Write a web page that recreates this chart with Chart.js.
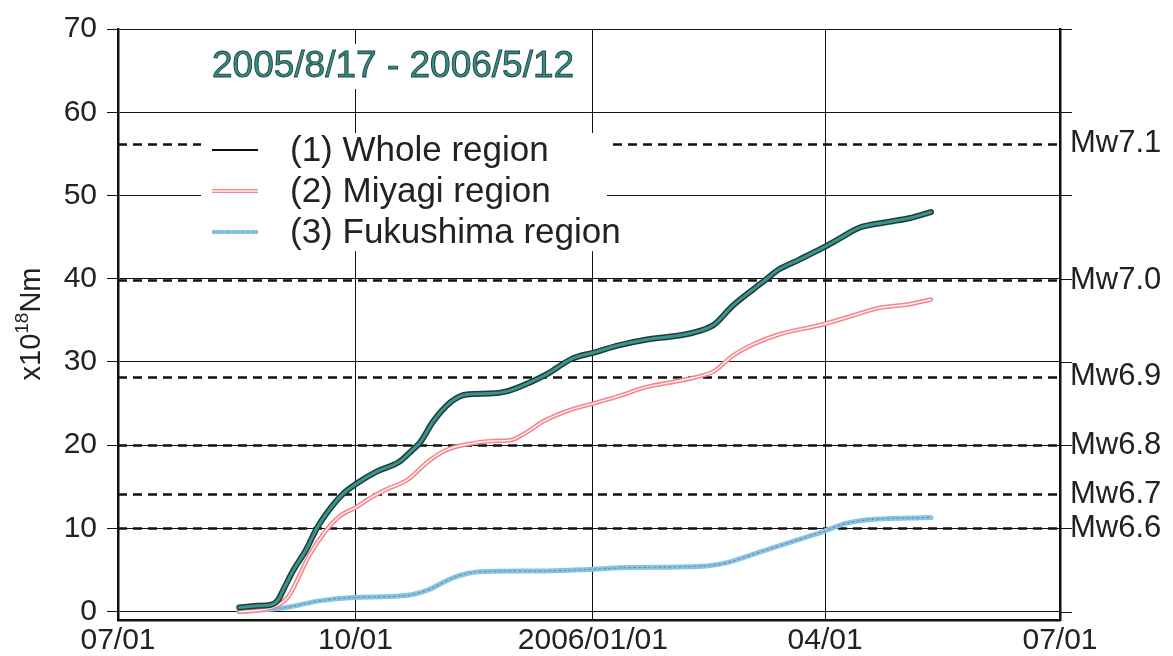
<!DOCTYPE html>
<html>
<head>
<meta charset="utf-8">
<script src="https://cdn.jsdelivr.net/npm/chart.js@4.4.1/dist/chart.umd.min.js"></script>
<style>
  html, body { margin: 0; padding: 0; background: #ffffff; }
  canvas { display: block; }
</style>
</head>
<body>
<canvas id="c" width="1173" height="656"></canvas>
<script>
// ---- data (days counted from 2005/07/01) ----
const xTickDays = [0, 92, 184, 274, 365];
const xTickLabels = ['07/01', '10/01', '2006/01/01', '04/01', '07/01'];
const yTickValues = [0, 10, 20, 30, 40, 50, 60, 70];
const mwValues = [56.2, 39.8, 28.2, 20.0, 14.1, 10.0];
const mwLabels = ['Mw7.1', 'Mw7.0', 'Mw6.9', 'Mw6.8', 'Mw6.7', 'Mw6.6'];
const periodLabel = '2005/8/17 - 2006/5/12';
const seriesNames = ['(1) Whole region', '(2) Miyagi region', '(3) Fukushima region'];

const wholeDays = [47,54,59,62,64,68,73,77,82,87,92,100,109,114,117,122,129,135,144,151,160,166,176,184,194,205,218,225,231,238,246,251,256,264,273,280,287,298,307,315];
const wholeValues = [0.5,0.7,0.8,1.4,2.6,5,7.5,10,12.3,14.1,15.3,16.8,18,19.4,20.3,22.8,25.2,26.1,26.2,26.5,27.6,28.5,30.4,31.1,32,32.7,33.2,33.7,34.5,36.7,38.7,39.9,41.1,42.3,43.7,44.9,46.1,46.8,47.3,48];

const miyagiDays = [47,55,62,66,69,74,81,86,92,98,104,112,120,127,135,145,152,157,165,174,184,194,205,215,223,231,238,246,256,273,284,295,306,315];
const miyagiValues = [0,0.2,0.8,1.8,3.5,6.7,9.9,11.5,12.5,13.7,14.7,15.8,18,19.4,20.1,20.5,20.6,21.3,22.9,24.1,25,25.9,27,27.6,28.1,28.9,30.7,32.1,33.3,34.5,35.5,36.5,36.9,37.5];

const fukushimaDays = [47,65,78,91,110,120,130,140,156,166,184,198,228,236,248,260,273,282,293,315];
const fukushimaValues = [0,0.5,1.3,1.7,1.9,2.6,4.1,4.8,4.9,4.9,5.1,5.3,5.5,5.9,7.1,8.3,9.6,10.6,11.1,11.3];

const toPoints = (days, vals) => days.map((d, i) => ({ x: d, y: vals[i] }));
const FONT = "'Liberation Sans', Arial, Helvetica, sans-serif";
const TXT = '#222222';

function line(data, color, width, order, dash) {
  return {
    data: data, borderColor: color, borderWidth: width, order: order,
    borderDash: dash || [], pointRadius: 0, fill: false,
    cubicInterpolationMode: 'monotone', borderCapStyle: 'round', borderJoinStyle: 'round'
  };
}

const decor = {
  id: 'decor',
  beforeDatasetsDraw(chart) {
    const ctx = chart.ctx, ca = chart.chartArea, y = chart.scales.y;
    ctx.save();
    // Mw reference dashed lines
    ctx.strokeStyle = '#111';
    ctx.lineWidth = 2.5;
    ctx.setLineDash([9, 6]);
    mwValues.forEach(v => {
      const py = Math.round(y.getPixelForValue(v)) + 0.5;
      ctx.beginPath(); ctx.moveTo(ca.left, py); ctx.lineTo(ca.right, py); ctx.stroke();
    });
    ctx.setLineDash([]);
    // grid extension right of the frame
    ctx.lineWidth = 1;
    yTickValues.forEach(v => {
      const py = Math.round(y.getPixelForValue(v)) + 0.5;
      ctx.beginPath(); ctx.moveTo(ca.right, py); ctx.lineTo(ca.right + 12, py); ctx.stroke();
    });
    // white boxes behind title and legend
    ctx.fillStyle = '#ffffff';
    ctx.fillRect(205, y.getPixelForValue(68.2), 378, y.getPixelForValue(62.8) - y.getPixelForValue(68.2));
    ctx.fillRect(201, y.getPixelForValue(57.5), 406, y.getPixelForValue(43.3) - y.getPixelForValue(57.5));

    // period label
    ctx.font = '37px ' + FONT;
    ctx.textAlign = 'left';
    ctx.textBaseline = 'middle';
    ctx.lineWidth = 0.9;
    ctx.strokeStyle = '#1d4542';
    ctx.fillStyle = '#3a8a84';
    ctx.fillText(periodLabel, 212, 67);
    ctx.strokeText(periodLabel, 212, 67);

    // legend
    const rows = [150, 191, 232];
    // (1) black
    ctx.strokeStyle = '#111'; ctx.lineWidth = 2;
    ctx.beginPath(); ctx.moveTo(212, rows[0]); ctx.lineTo(258, rows[0]); ctx.stroke();
    // (2) pink hollow
    ctx.strokeStyle = '#f4868c'; ctx.lineWidth = 4;
    ctx.beginPath(); ctx.moveTo(212, rows[1]); ctx.lineTo(258, rows[1]); ctx.stroke();
    ctx.strokeStyle = '#fff0f0'; ctx.lineWidth = 1.3;
    ctx.beginPath(); ctx.moveTo(212, rows[1]); ctx.lineTo(258, rows[1]); ctx.stroke();
    // (3) blue dotted
    ctx.strokeStyle = '#86c6e4'; ctx.lineWidth = 4;
    ctx.beginPath(); ctx.moveTo(212, rows[2]); ctx.lineTo(258, rows[2]); ctx.stroke();
    ctx.strokeStyle = '#7f8aa6'; ctx.lineWidth = 1.2; ctx.setLineDash([2, 3]);
    ctx.beginPath(); ctx.moveTo(212, rows[2]); ctx.lineTo(258, rows[2]); ctx.stroke();
    ctx.setLineDash([]);
    ctx.fillStyle = TXT;
    ctx.font = '35px ' + FONT;
    seriesNames.forEach((s, i) => ctx.fillText(s, 290, rows[i] + 1));

    // y axis title  x10^18 Nm
    ctx.translate(30, 324);
    ctx.rotate(-Math.PI / 2);
    const big = '29px ' + FONT, small = '19px ' + FONT;
    ctx.font = big; const w1 = ctx.measureText('x10').width; const w3 = ctx.measureText('Nm').width;
    ctx.font = small; const w2 = ctx.measureText('18').width;
    let px = -(w1 + w2 + w3) / 2;
    ctx.textBaseline = 'alphabetic';
    ctx.font = big; ctx.fillText('x10', px, 10); px += w1;
    ctx.font = small; ctx.fillText('18', px, -2); px += w2;
    ctx.font = big; ctx.fillText('Nm', px, 10);
    ctx.restore();
  }
};

new Chart(document.getElementById('c'), {
  type: 'line',
  data: {
    datasets: [
      line(toPoints(wholeDays, wholeValues), '#3f918b', 3, 1),
      line(toPoints(wholeDays, wholeValues), '#173f3c', 6, 2),
      line(toPoints(miyagiDays, miyagiValues), '#fff3f3', 1.4, 3),
      line(toPoints(miyagiDays, miyagiValues), '#f4868c', 4.5, 4),
      line(toPoints(fukushimaDays, fukushimaValues), '#7f8aa6', 1.2, 5, [2, 3]),
      line(toPoints(fukushimaDays, fukushimaValues), '#86c6e4', 5, 6)
    ]
  },
  options: {
    responsive: false,
    animation: false,
    devicePixelRatio: 1,
    layout: { padding: { top: 29, left: 0, right: 0, bottom: 0 } },
    plugins: { legend: { display: false }, tooltip: { enabled: false }, title: { display: false } },
    scales: {
      x: {
        type: 'linear', min: 0, max: 365,
        afterBuildTicks: s => { s.ticks = xTickDays.map(v => ({ value: v })); },
        afterFit: s => { s.height = 36; },
        grid: { color: '#111', lineWidth: 1, drawTicks: false },
        border: { display: true, color: '#111', width: 2.5 },
        ticks: {
          autoSkip: false, maxRotation: 0, padding: 3, color: TXT,
          font: { family: FONT, size: 30 },
          callback: v => xTickLabels[xTickDays.indexOf(v)]
        }
      },
      y: {
        position: 'left', min: -1, max: 70,
        afterBuildTicks: s => { s.ticks = yTickValues.map(v => ({ value: v })); },
        afterFit: s => { s.width = 118; },
        grid: { color: '#111', lineWidth: 1, drawTicks: true, tickLength: 11 },
        border: { display: true, color: '#111', width: 2.5 },
        ticks: { padding: 10, color: TXT, font: { family: FONT, size: 30 } }
      },
      mw: {
        position: 'right', min: -1, max: 70,
        afterBuildTicks: s => { s.ticks = mwValues.map(v => ({ value: v })); },
        afterFit: s => { s.width = 113; },
        grid: { display: false, drawTicks: false },
        border: { display: true, color: '#111', width: 2.5 },
        ticks: {
          padding: 10, color: TXT, font: { family: FONT, size: 31 },
          callback: v => mwLabels[mwValues.indexOf(v)]
        }
      }
    }
  },
  plugins: [decor]
});
</script>
</body>
</html>
